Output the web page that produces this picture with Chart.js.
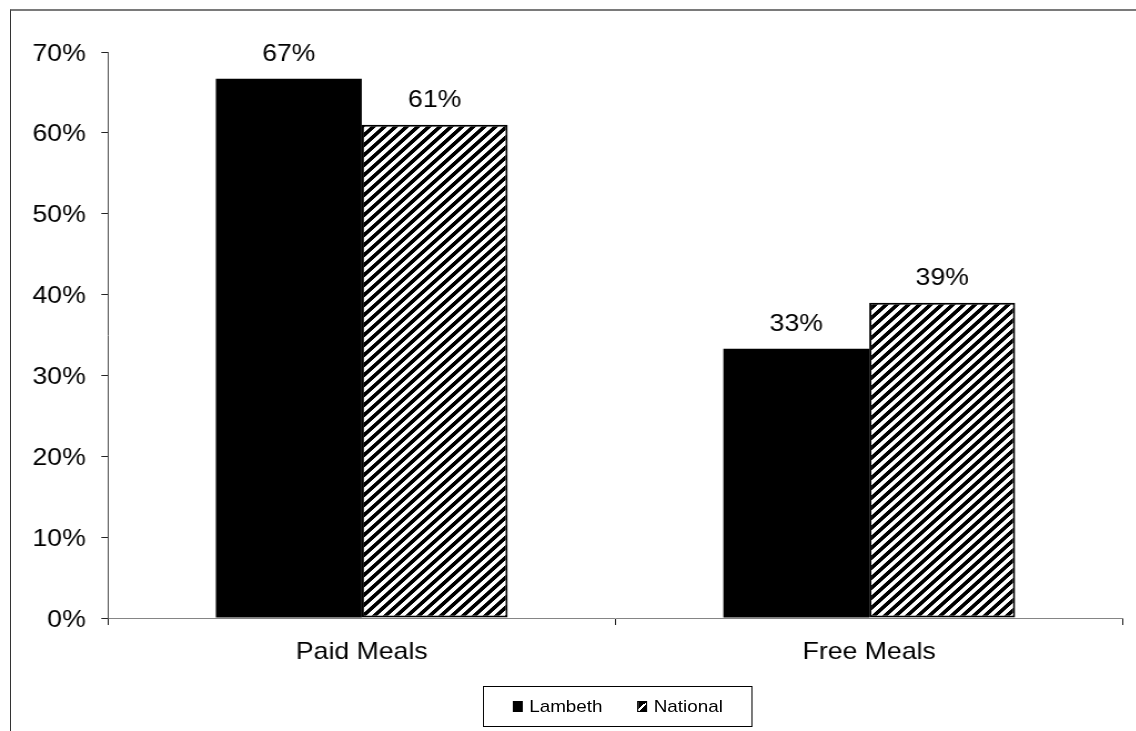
<!DOCTYPE html>
<html>
<head>
<meta charset="utf-8">
<title>Paid and Free Meals</title>
<script src="https://cdn.jsdelivr.net/npm/chart.js@4/dist/chart.umd.min.js"></script>
<style>
  html, body { margin: 0; padding: 0; background: #fff; overflow: hidden; }
  #frame {
    position: absolute; left: 10px; top: 9px; width: 1300px; height: 900px;
    border-top: 2px solid #7a7a7a; border-left: 1px solid #333;
  }
  /* the whole chart is drawn narrow and widened horizontally */
  #stage {
    position: absolute; left: 0; top: 0; width: 1023px; height: 731px;
    transform: scaleX(1.11); transform-origin: 0 0;
  }
  #legend {
    position: absolute; left: 435px; top: 686px; width: 243px; height: 41px;
    box-sizing: border-box; border: 1px solid #000;
    display: flex; align-items: center; justify-content: center; gap: 31px;
    font: 17px "Liberation Sans", Arial, sans-serif; color: #000;
  }
  #legend .item { display: flex; align-items: center; }
  #legend .swatch { width: 9px; height: 11px; margin-right: 6px; box-sizing: border-box; }
  #legend .solid { background: #000; }
  #legend .hatch {
    border: 1px solid #000;
    background: linear-gradient(135deg, #000 0 45%, #fff 45% 62%, #000 62% 100%);
  }
</style>
</head>
<body>
<div id="frame"></div>
<div id="stage">
  <canvas id="meals"></canvas>
  <div id="legend">
    <div class="item"><span class="swatch solid"></span>Lambeth</div>
    <div class="item"><span class="swatch hatch"></span>National</div>
  </div>
</div>
<script>
const categories = ['Paid Meals', 'Free Meals'];
const lambeth = [0.667, 0.333];
const national = [0.61, 0.39];
const yTickLabels = ['0%', '10%', '20%', '30%', '40%', '50%', '60%', '70%'];

Chart.defaults.font.family = '"Liberation Sans", Arial, sans-serif';
Chart.defaults.color = '#000';

// upward diagonal stripes, black on white
function makeHatch() {
  const size = 10;
  const c = document.createElement('canvas');
  c.width = size;
  c.height = size;
  const g = c.getContext('2d');
  const img = g.createImageData(size, size);
  for (let y = 0; y < size; y++) {
    for (let x = 0; x < size; x++) {
      const v = (x + y) % size < 5 ? 0 : 255;
      const k = (y * size + x) * 4;
      img.data[k] = v;
      img.data[k + 1] = v;
      img.data[k + 2] = v;
      img.data[k + 3] = 255;
    }
  }
  g.putImageData(img, 0, 0);
  return g.createPattern(c, 'repeat');
}

// percentage written above each bar
const valueLabels = {
  id: 'valueLabels',
  afterDatasetsDraw(chart) {
    const ctx = chart.ctx;
    ctx.save();
    ctx.font = '24px "Liberation Sans", Arial, sans-serif';
    ctx.fillStyle = '#000';
    ctx.textAlign = 'center';
    ctx.textBaseline = 'middle';
    chart.data.datasets.forEach((ds, i) => {
      chart.getDatasetMeta(i).data.forEach((bar, j) => {
        ctx.fillText(Math.round(ds.data[j] * 100) + '%', bar.x, bar.y - 24);
      });
    });
    ctx.restore();
  }
};

const ctx = document.getElementById('meals').getContext('2d');
new Chart(ctx, {
  type: 'bar',
  data: {
    labels: categories,
    datasets: [
      {
        label: 'Lambeth',
        data: lambeth,
        backgroundColor: '#000',
        borderColor: '#000',
        borderWidth: 0,
        categoryPercentage: 0.575,
        barPercentage: 1
      },
      {
        label: 'National',
        data: national,
        backgroundColor: makeHatch(),
        borderColor: '#000',
        borderWidth: 2,
        borderSkipped: false,
        categoryPercentage: 0.575,
        barPercentage: 1
      }
    ]
  },
  options: {
    responsive: true,
    maintainAspectRatio: false,
    animation: false,
    devicePixelRatio: 1,
    layout: { padding: { top: 52, right: 11.3, bottom: 0, left: 0 } },
    plugins: {
      legend: { display: false },
      title: { display: false },
      tooltip: { enabled: false }
    },
    scales: {
      x: {
        grid: { drawOnChartArea: false, drawTicks: true, tickLength: 7, color: '#222' },
        border: { color: '#858585', width: 1 },
        ticks: { font: { size: 24 }, color: '#000', padding: 13 },
        afterFit(scale) { scale.height = 113; }
      },
      y: {
        min: 0,
        max: 0.7,
        grid: { drawOnChartArea: false, drawTicks: true, tickLength: 6, color: '#222' },
        border: { color: '#555', width: 1 },
        ticks: {
          stepSize: 0.1,
          font: { size: 24 },
          color: '#000',
          padding: 14,
          labelOffset: 2,
          callback: (v, i) => yTickLabels[i]
        },
        afterFit(scale) { scale.width = 97.3; }
      }
    }
  },
  plugins: [valueLabels]
});
</script>
</body>
</html>
